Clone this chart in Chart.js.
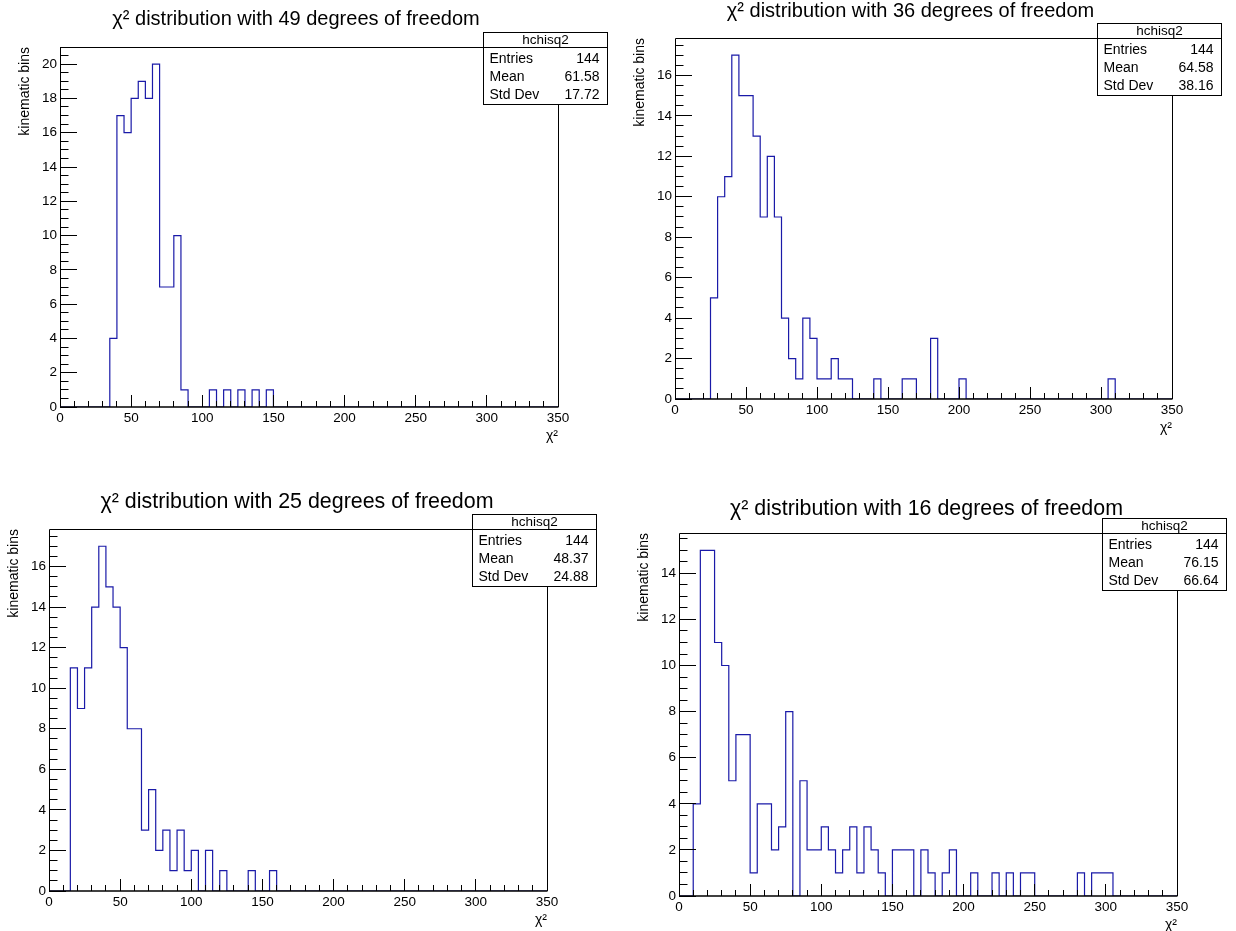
<!DOCTYPE html>
<html>
<head>
<meta charset="utf-8">
<title>chi2 distributions</title>
<script src="https://cdn.jsdelivr.net/npm/chart.js@4.4.1/dist/chart.umd.min.js"></script>
<style>
  html, body { margin: 0; padding: 0; background: #fff; }
  #page { position: relative; width: 1236px; height: 931px; overflow: hidden; background: #fff; }
  #page canvas { position: absolute; }
</style>
</head>
<body>
<div id="page">
  <canvas id="h49" width="618" height="465" style="left:0;top:0"></canvas>
  <canvas id="h36" width="618" height="465" style="left:618px;top:0"></canvas>
  <canvas id="h25" width="618" height="466" style="left:0;top:465px"></canvas>
  <canvas id="h16" width="618" height="466" style="left:618px;top:465px"></canvas>
</div>
<script>
// hchisq2: 70 bins of width 5 on [0, 350)
const binWidth = 5;
const xTicks = [0, 50, 100, 150, 200, 250, 300, 350];

const dofs = [49, 36, 25, 16];
const entries = [144, 144, 144, 144];
const means = ['61.58', '64.58', '48.37', '76.15'];
const stdDevs = ['17.72', '38.16', '24.88', '66.64'];

const counts49 = [
  0, 0, 0, 0, 0, 0, 0, 4, 17, 16,
  18, 19, 18, 20, 7, 7, 10, 1, 0, 0,
  0, 1, 0, 1, 0, 1, 0, 1, 0, 1,
  0, 0, 0, 0, 0, 0, 0, 0, 0, 0,
  0, 0, 0, 0, 0, 0, 0, 0, 0, 0,
  0, 0, 0, 0, 0, 0, 0, 0, 0, 0,
  0, 0, 0, 0, 0, 0, 0, 0, 0, 0
];
const counts36 = [
  0, 0, 0, 0, 0, 5, 10, 11, 17, 15,
  15, 13, 9, 12, 9, 4, 2, 1, 4, 3,
  1, 1, 2, 1, 1, 0, 0, 0, 1, 0,
  0, 0, 1, 1, 0, 0, 3, 0, 0, 0,
  1, 0, 0, 0, 0, 0, 0, 0, 0, 0,
  0, 0, 0, 0, 0, 0, 0, 0, 0, 0,
  0, 1, 0, 0, 0, 0, 0, 0, 0, 0
];
const counts25 = [
  0, 0, 0, 11, 9, 11, 14, 17, 15, 14,
  12, 8, 8, 3, 5, 2, 3, 1, 3, 1,
  2, 0, 2, 0, 1, 0, 0, 0, 1, 0,
  0, 1, 0, 0, 0, 0, 0, 0, 0, 0,
  0, 0, 0, 0, 0, 0, 0, 0, 0, 0,
  0, 0, 0, 0, 0, 0, 0, 0, 0, 0,
  0, 0, 0, 0, 0, 0, 0, 0, 0, 0
];
const counts16 = [
  0, 0, 4, 15, 15, 11, 10, 5, 7, 7,
  1, 4, 4, 2, 3, 8, 0, 5, 2, 2,
  3, 2, 1, 2, 3, 1, 3, 2, 1, 0,
  2, 2, 2, 0, 2, 1, 0, 1, 2, 0,
  0, 1, 0, 0, 1, 0, 1, 0, 1, 1,
  0, 0, 0, 0, 0, 0, 1, 0, 1, 1,
  1, 0, 0, 0, 0, 0, 0, 0, 0, 0
];

const yTicks20 = [0, 2, 4, 6, 8, 10, 12, 14, 16, 18, 20];
const yTicks16 = [0, 2, 4, 6, 8, 10, 12, 14, 16];
const yTicks14 = [0, 2, 4, 6, 8, 10, 12, 14];

const FONT = "'Liberation Sans', Arial, Helvetica, sans-serif";
const LINE_BLUE = '#1a1aa8';
const Y_AXIS_W = 40;
const X_AXIS_H = 30;

// pad geometry (canvas pixels): frame box and title placement
const pads = [
  { id: 'h49', counts: counts49, yTicks: yTicks20, frame: { left: 60, top: 47, right: 558, bottom: 407 }, title: { x: 296, y: 25, size: 20 } },
  { id: 'h36', counts: counts36, yTicks: yTicks16, frame: { left: 57, top: 38, right: 554, bottom: 399 }, title: { x: 292.5, y: 17, size: 20 } },
  { id: 'h25', counts: counts25, yTicks: yTicks16, frame: { left: 49, top: 64, right: 547, bottom: 426 }, title: { x: 297, y: 43, size: 21.4 } },
  { id: 'h16', counts: counts16, yTicks: yTicks14, frame: { left: 61, top: 68, right: 559, bottom: 431 }, title: { x: 308.5, y: 50, size: 21.4 } }
];

// outline of the histogram as a stepped line through the bin edges
function histogramPoints(counts) {
  const pts = counts.map((c, i) => ({ x: i * binWidth, y: c }));
  pts.push({ x: counts.length * binWidth, y: counts[counts.length - 1] });
  return pts;
}

const crisp = v => Math.floor(v) + 0.5;

// ROOT-style frame, inward ticks, titles and the stats box
const rootPad = {
  id: 'rootPad',
  afterDraw(chart, args, opts) {
    const { ctx, chartArea: a, scales: { x, y } } = chart;
    const L = a.left, R = a.right, T = a.top, B = a.bottom;
    ctx.save();
    ctx.strokeStyle = '#000';
    ctx.lineWidth = 1;

    ctx.beginPath();
    ctx.moveTo(crisp(L), B);
    ctx.lineTo(crisp(L), crisp(T));
    ctx.lineTo(crisp(R), crisp(T));
    ctx.lineTo(crisp(R), B);
    ctx.stroke();

    // x axis line, wide enough to sit over the empty bins
    ctx.lineWidth = 1.5;
    ctx.beginPath();
    ctx.moveTo(L, B);
    ctx.lineTo(R + 0.5, B);
    ctx.stroke();

    ctx.lineWidth = 1;
    ctx.beginPath();
    for (let v = x.min; v <= x.max; v += 10) {
      const px = crisp(x.getPixelForValue(v));
      ctx.moveTo(px, B);
      ctx.lineTo(px, B - (v % 50 === 0 ? 12 : 6));
    }
    for (let v = 0; v <= y.max; v += 0.5) {
      const py = crisp(y.getPixelForValue(v));
      ctx.moveTo(L, py);
      ctx.lineTo(L + (v % 2 === 0 ? 17 : 8.5), py);
    }
    ctx.stroke();

    ctx.fillStyle = '#000';

    // histogram title
    ctx.font = `${opts.titleSize}px ${FONT}`;
    ctx.textAlign = 'center';
    ctx.textBaseline = 'alphabetic';
    ctx.fillText(`\u03c7\u00b2 distribution with ${opts.dof} degrees of freedom`, opts.titleX, opts.titleY);

    // axis titles
    ctx.font = `14px ${FONT}`;
    ctx.textAlign = 'right';
    ctx.textBaseline = 'middle';
    ctx.fillText('\u03c7\u00b2', R, B + 29);

    ctx.save();
    ctx.translate(L - 35, T);
    ctx.rotate(-Math.PI / 2);
    ctx.textAlign = 'right';
    ctx.fillText('kinematic bins', 0, 0);
    ctx.restore();

    // stats box
    const bx = crisp(R - 75), by = crisp(T - 15);
    const bw = 124, bh = 72;
    ctx.fillStyle = '#fff';
    ctx.fillRect(bx, by, bw, bh);
    ctx.strokeRect(bx, by, bw, bh);
    ctx.beginPath();
    ctx.moveTo(bx, crisp(T));
    ctx.lineTo(bx + bw, crisp(T));
    ctx.stroke();

    ctx.fillStyle = '#000';
    ctx.font = `13.5px ${FONT}`;
    ctx.textAlign = 'center';
    ctx.fillText('hchisq2', bx + bw / 2, T - 7);

    const rows = [['Entries', String(opts.entries)], ['Mean', opts.mean], ['Std Dev', opts.std]];
    ctx.font = `14px ${FONT}`;
    rows.forEach(([label, value], i) => {
      const ry = T + 12 + i * 18;
      ctx.textAlign = 'left';
      ctx.fillText(label, bx + 6, ry);
      ctx.textAlign = 'right';
      ctx.fillText(value, bx + bw - 8, ry);
    });
    ctx.restore();
  }
};

pads.forEach((pad, k) => {
  const canvas = document.getElementById(pad.id);
  const W = canvas.width, H = canvas.height;
  const f = pad.frame;
  const yMax = Math.max(...pad.counts) * 1.05;

  new Chart(canvas, {
    type: 'line',
    data: {
      datasets: [{
        label: 'hchisq2',
        data: histogramPoints(pad.counts),
        borderColor: LINE_BLUE,
        borderWidth: 1.2,
        // horizontal across the bin first, then vertical at its right edge
        stepped: 'before',
        pointRadius: 0,
        fill: false,
        tension: 0
      }]
    },
    options: {
      responsive: false,
      animation: false,
      devicePixelRatio: 1,
      events: [],
      layout: {
        padding: {
          left: f.left - Y_AXIS_W,
          top: f.top,
          right: W - f.right,
          bottom: H - f.bottom - X_AXIS_H
        }
      },
      plugins: {
        legend: { display: false },
        tooltip: { enabled: false },
        rootPad: {
          dof: dofs[k],
          entries: entries[k],
          mean: means[k],
          std: stdDevs[k],
          titleX: pad.title.x,
          titleY: pad.title.y,
          titleSize: pad.title.size
        }
      },
      scales: {
        x: {
          type: 'linear',
          min: 0,
          max: 350,
          grid: { display: false, drawTicks: false },
          border: { display: false },
          afterBuildTicks: s => { s.ticks = xTicks.map(v => ({ value: v })); },
          afterFit: s => { s.height = X_AXIS_H; },
          ticks: {
            autoSkip: false,
            maxRotation: 0,
            padding: 3,
            color: '#000',
            font: { family: FONT, size: 13.5 }
          }
        },
        y: {
          min: 0,
          max: yMax,
          grid: { display: false, drawTicks: false },
          border: { display: false },
          afterBuildTicks: s => { s.ticks = pad.yTicks.map(v => ({ value: v })); },
          afterFit: s => { s.width = Y_AXIS_W; },
          ticks: {
            autoSkip: false,
            padding: 3,
            color: '#000',
            font: { family: FONT, size: 13.5 }
          }
        }
      }
    },
    plugins: [rootPad]
  });
});
</script>
</body>
</html>
